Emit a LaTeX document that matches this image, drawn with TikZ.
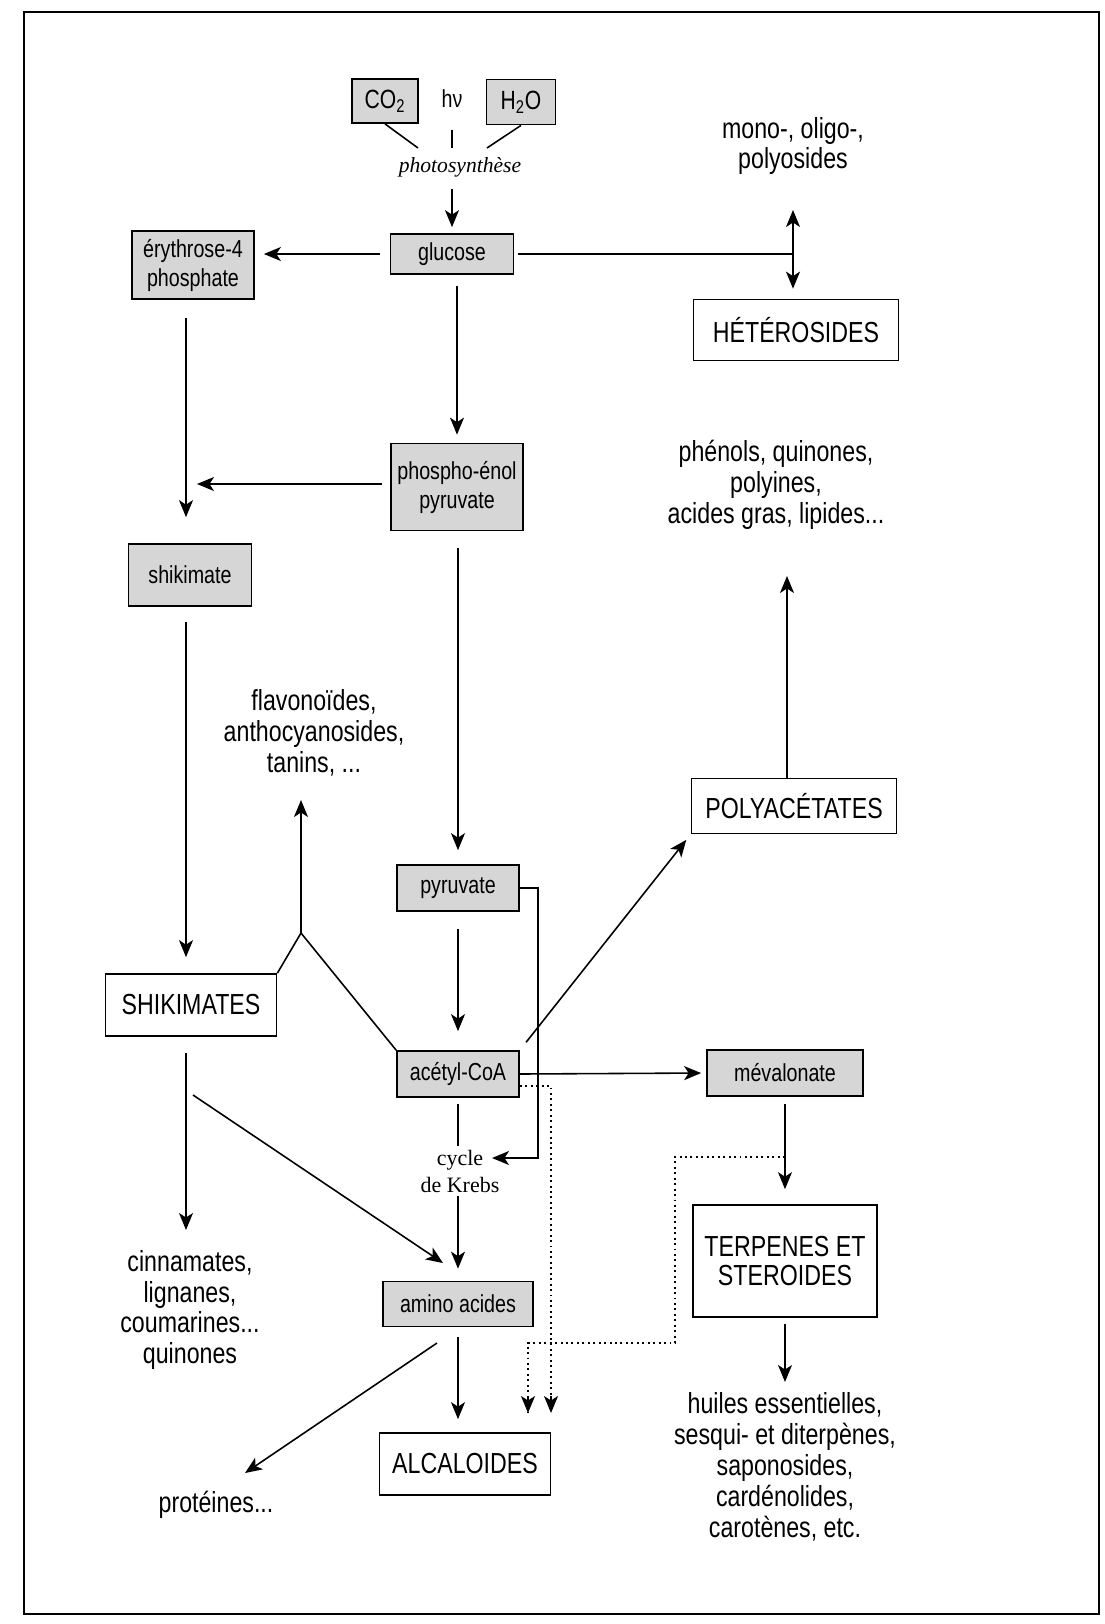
\documentclass[tikz,border=0pt]{standalone}
\usepackage{fontspec}
\setmainfont{Liberation Sans}[FakeStretch=0.8]
\newfontfamily\krebsfont{Liberation Serif}
\usetikzlibrary{arrows.meta}

\begin{document}
\begin{tikzpicture}
  [x=0.02cm, y=-0.02cm, line width=0.9pt]
  \tikzstyle{box} = [draw=black, line width=1pt, inner sep=0pt, align=center];
  \tikzstyle{shaded_box} = [box, fill=black!16, font=\fontsize{14}{16.5}\selectfont];
  \tikzstyle{plain_box}  = [box, font=\fontsize{16.5}{16}\selectfont];
  \tikzstyle{product}    = [align=center, inner sep=0pt, font=\fontsize{16.5}{17.6}\selectfont];
  \tikzstyle{flow}       = [-{Stealth[length=3.4mm,width=2.8mm,inset=0.9mm]}];
  \tikzstyle{by_path}    = [dotted, line width=1.1pt];

  \useasboundingbox (0,0) rectangle (1105,1624);
  \draw[line width=1.6pt] (24,12) rectangle (1099,1614);

  % photosynthese
  \node[shaded_box, minimum width=1.32cm, minimum height=0.88cm, font=\fontsize{15}{17}\selectfont] (co2) at (385,101) {CO\textsubscript{2}};
  \node[shaded_box, minimum width=1.38cm, minimum height=0.9cm, font=\fontsize{15}{17}\selectfont] (h2o) at (521,102) {H\textsubscript{2}O};
  \node[font=\fontsize{14}{16}\selectfont] (hv) at (452,99) {hν};
  \node[font=\krebsfont\itshape\fontsize{12.3}{14}\selectfont] (photo) at (460,167) {photosynthèse};

  % shaded boxes
  \node[shaded_box, minimum width=2.46cm, minimum height=0.8cm]  (glucose)    at (452,254)  {glucose};
  \node[shaded_box, minimum width=2.44cm, minimum height=1.36cm] (erythrose)  at (193,265)  {érythrose-4\\phosphate};
  \node[shaded_box, minimum width=2.64cm, minimum height=1.74cm] (pep)        at (457,487)  {phospho-énol\\pyruvate};
  \node[shaded_box, minimum width=2.46cm, minimum height=1.24cm] (shikimate)  at (190,575)  {shikimate};
  \node[shaded_box, minimum width=2.44cm, minimum height=0.92cm] (pyruvate)   at (458,888)  {pyruvate};
  \node[shaded_box, minimum width=2.44cm, minimum height=0.92cm] (acetyl)     at (458,1074) {acétyl-CoA};
  \node[shaded_box, minimum width=3cm,    minimum height=0.9cm]  (amino)      at (458,1304) {amino acides};
  \node[shaded_box, minimum width=3.12cm, minimum height=0.92cm] (mevalonate) at (785,1073) {mévalonate};

  % plain boxes
  \node[plain_box, minimum width=4.1cm,  minimum height=1.22cm] (heterosides)  at (796,330)  {HÉTÉROSIDES};
  \node[plain_box, minimum width=4.1cm,  minimum height=1.1cm]  (polyacetates) at (794,806)  {POLYACÉTATES};
  \node[plain_box, minimum width=3.42cm, minimum height=1.24cm] (shikimates)   at (191,1005) {SHIKIMATES};
  \node[plain_box, minimum width=3.42cm, minimum height=1.24cm] (alcaloides)   at (465,1464) {ALCALOIDES};
  \node[plain_box, minimum width=3.68cm, minimum height=2.24cm] (terpenes)     at (785,1261) {TERPENES ET\\STEROIDES};

  % products
  \node[product] (mono)       at (793,146)  {mono-, oligo-,\\polyosides};
  \node[product] (phenols)    at (776,485)  {phénols, quinones,\\polyines,\\acides gras, lipides...};
  \node[product] (flavo)      at (314,733)  {flavonoïdes,\\anthocyanosides,\\tanins, ...};
  \node[product] (cinnamates) at (190,1310) {cinnamates,\\lignanes,\\coumarines...\\quinones};
  \node[product] (huiles)     at (785,1467) {huiles essentielles,\\sesqui- et diterpènes,\\saponosides,\\cardénolides,\\carotènes, etc.};
  \node[product] (proteines)  at (216,1505) {protéines...};
  \node[align=center, inner sep=0pt, font=\krebsfont\fontsize{12.5}{15.4}\selectfont] (krebs) at (460,1171) {cycle\\de Krebs};

  % free ends
  \coordinate (lcol)      at (186,0);
  \coordinate (ps_co2)    at (418,148);
  \coordinate (ps_hv)     at (452,148);
  \coordinate (ps_h2o)    at (487,148);
  \coordinate (glu_fork)  at (793,254);
  \coordinate (mono_in)   at (793,210);
  \coordinate (ery_join)  at (186,484);
  \coordinate (pyr_turn)  at (538,1158);
  \coordinate (krebs_in)  at (492,1158);
  \coordinate (fork_v)    at (301,933);
  \coordinate (flavo_in)  at (301,800);
  \coordinate (cin_in)    at (186,1230);
  \coordinate (shik_out)  at (193,1095);
  \coordinate (amino_in)  at (443,1263);
  \coordinate (amino_out) at (437,1343);
  \coordinate (prot_in)   at (245,1473);
  \coordinate (phen_in)   at (787,576);
  \coordinate (huiles_in) at (785,1382);
  \coordinate (mev_tap)   at (785,1157);
  \coordinate (dot_bend)  at (675,1343);
  \coordinate (alk_in_a)  at (528,1413);
  \coordinate (alk_in_b)  at (551,1413);

  % connections
  \draw (co2.south) -- (ps_co2);
  \draw[shorten <=0.3cm] (hv.south) -- (ps_hv);
  \draw (h2o.south) -- (ps_h2o);
  \draw[flow, shorten <=0.12cm, shorten >=0.12cm] (glucose |- photo.south) -- (glucose.north);

  \draw[flow, shorten <=0.2cm, shorten >=0.18cm] (glucose.west) -- (glucose.west -| erythrose.east);
  \draw[shorten <=0.08cm] (glucose.east) -- (glu_fork);
  \draw[flow] (glu_fork) -- (mono_in);
  \draw[flow, shorten >=0.2cm] (glu_fork) -- (glu_fork |- heterosides.north);

  \draw[flow, shorten <=0.22cm, shorten >=0.16cm] (pep.north |- glucose.south) -- (pep.north);
  \draw[shorten <=0.36cm] (erythrose.south -| lcol) -- (ery_join);
  \draw[flow, shorten <=0.16cm, shorten >=0.22cm] (pep.west |- ery_join) -- (ery_join);
  \draw[flow, shorten >=0.52cm] (ery_join) -- (shikimate.north -| lcol);
  \draw[flow, shorten <=0.3cm, shorten >=0.32cm] (shikimate.south -| lcol) -- (shikimates.north -| lcol);

  \draw[flow, shorten <=0.34cm, shorten >=0.28cm] (pyruvate |- pep.south) -- (pyruvate.north);
  \draw[flow, shorten <=0.34cm, shorten >=0.38cm] (pyruvate.south) -- (acetyl.north);
  \draw[flow] (pyruvate.east) -| (pyr_turn) -- (krebs_in);
  \draw[shorten <=0.12cm, shorten >=0.06cm] (acetyl.south) -- (acetyl.south |- krebs.north);
  \draw[flow, shorten <=0.06cm, shorten >=0.24cm] (amino |- krebs.south) -- (amino.north);
  \draw[flow, shorten <=0.2cm, shorten >=0.26cm] (amino.south) -- (amino.south |- alcaloides.north);
  \draw[flow] (amino_out) -- (prot_in);

  \draw[flow, shorten <=0.32cm] (shikimates.south -| lcol) -- (cin_in);
  \draw[flow] (shik_out) -- (amino_in);
  \draw (shikimates.north east) -- (fork_v) -- (acetyl.north west);
  \draw[flow] (fork_v) -- (flavo_in);

  \draw[flow, shorten <=0.2cm, shorten >=0.14cm] (acetyl.north east) -- (polyacetates.south west);
  \draw[flow, shorten >=0.1cm] (acetyl.east) -- (mevalonate.west);
  \draw[flow] (polyacetates.north -| phen_in) -- (phen_in);
  \draw[flow, shorten <=0.14cm, shorten >=0.3cm] (mevalonate.south) -- (terpenes.north);
  \draw[flow, shorten <=0.12cm] (terpenes.south) -- (huiles_in);

  % dotted side routes into the alkaloids
  \draw[by_path] ([yshift=-0.24cm]acetyl.east) -| (alk_in_b);
  \draw[by_path] (mev_tap) -| (dot_bend) -| (alk_in_a);
  \draw[flow] ([yshift=0.34cm]alk_in_a) -- (alk_in_a);
  \draw[flow] ([yshift=0.34cm]alk_in_b) -- (alk_in_b);

\end{tikzpicture}
\end{document}
